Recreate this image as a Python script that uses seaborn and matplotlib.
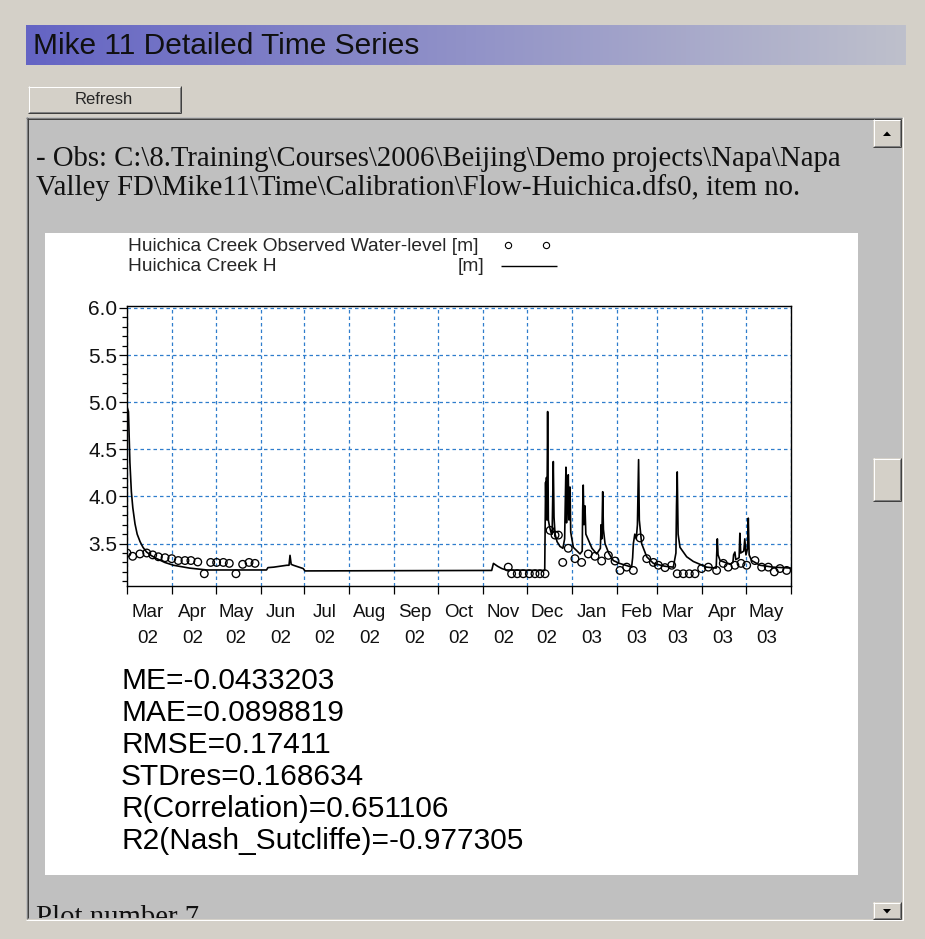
import numpy as np
import pandas as pd
import matplotlib
matplotlib.use("Agg")
import matplotlib.pyplot as plt
import matplotlib.dates as mdates
from matplotlib.patches import Rectangle, Polygon
from matplotlib.ticker import MultipleLocator
import seaborn as sns

# ---------------------------------------------------------------- data
START = "2002-03-01"
END = "2003-06-01"

# Simulated water level H (days after START, metres)
sim_day = [0, 1, 2, 3, 4, 5.5, 7, 9, 11, 13.5, 17, 20.5, 26, 32, 43, 55, 96, 97,
           101, 110, 111.5, 112.2, 113, 114.5, 121.3, 122.5, 251, 252.2, 255, 258,
           261, 287.5, 287.8, 288.1, 288.4, 288.7, 289.0, 289.5, 290.0, 290.8,
           291.8, 292.6, 293.4, 293.9, 294.6, 296, 298, 300, 301.2, 301.6, 302.1,
           302.5, 303, 303.7, 304.2, 304.9, 305.4, 307.2, 311.8, 313.3, 313.6, 314,
           314.5, 315.2, 315.8, 317.5, 320, 323.3, 325.8, 326.3, 326.8, 327.4,
           327.9, 329, 331.5, 334.7, 339, 347.3, 348, 348.5, 349.5, 350.5, 351.3,
           352.1, 352.6, 354.2, 357.7, 362.3, 370, 376, 377.8, 378.2, 378.7, 379.3,
           380.6, 385.2, 389.8, 398.9, 405.5, 405.9, 406.3, 406.8, 408.2, 415, 417,
           417.5, 418.4, 419, 421.3, 421.8, 422.4, 424.5, 425.2, 426, 427.1, 427.6,
           428.2, 429.9, 435.7, 444.8, 457]
sim_level = [4.95, 4.90, 4.36, 4.05, 3.88, 3.71, 3.60, 3.52, 3.46, 3.41, 3.37, 3.34,
             3.30, 3.27, 3.24, 3.22, 3.22, 3.245, 3.25, 3.27, 3.27, 3.375, 3.28,
             3.27, 3.235, 3.21, 3.215, 3.29, 3.26, 3.235, 3.22, 3.215, 3.70, 4.15,
             3.80, 4.20, 3.75, 4.90, 3.75, 3.68, 3.62, 3.60, 4.37, 3.78, 3.60, 3.52,
             3.47, 3.45, 3.55, 3.90, 4.31, 3.72, 3.90, 4.23, 3.75, 4.10, 3.62, 3.46,
             3.39, 3.42, 3.85, 4.12, 3.70, 3.90, 3.60, 3.54, 3.45, 3.39, 3.45, 3.70,
             3.55, 4.05, 3.65, 3.50, 3.40, 3.32, 3.29, 3.25, 3.35, 3.50, 3.60, 3.55,
             3.70, 4.39, 3.75, 3.50, 3.36, 3.29, 3.26, 3.25, 3.40, 3.90, 4.26, 3.60,
             3.46, 3.36, 3.31, 3.25, 3.24, 3.40, 3.55, 3.38, 3.32, 3.28, 3.30, 3.38,
             3.41, 3.33, 3.35, 3.61, 3.40, 3.42, 3.55, 3.38, 3.45, 3.77, 3.38, 3.32,
             3.27, 3.25, 3.24]

# Observed water level (days after START, metres)
obs_day = [0, 3.9, 8.9, 13.6, 17.7, 21.6, 26.2, 30.8, 35.3, 39.9, 44, 48.7, 53.2,
           57.6, 61.7, 66.3, 70.4, 75, 79.6, 84, 88.1,
           262.4, 264.7, 268.6, 272.7, 276.9, 280.8, 284.2, 287.7,
           291.2, 294.6, 296.9, 299.9, 303.7, 308.3, 312.9, 317.5, 322.1, 326.7,
           331.3, 335.9, 339.3, 343.9, 348.5, 353.1, 357.7, 362.3, 365.7, 370.3,
           374.9, 378.7, 382.9, 387, 390.9, 395.5, 400.1, 405.8, 410.4, 413.8,
           418.4, 422.6, 426.5, 432.2, 436.8, 441.4, 445.5, 449.4, 454]
obs_level = [3.40, 3.365, 3.39, 3.40, 3.38, 3.36, 3.35, 3.34, 3.32, 3.32, 3.32,
             3.305, 3.18, 3.30, 3.30, 3.30, 3.29, 3.18, 3.28, 3.30, 3.29,
             3.25, 3.18, 3.18, 3.18, 3.18, 3.18, 3.18, 3.18,
             3.64, 3.59, 3.59, 3.30, 3.45, 3.34, 3.30, 3.39, 3.365, 3.315, 3.375,
             3.315, 3.215, 3.25, 3.215, 3.56, 3.34, 3.30, 3.27, 3.245, 3.27, 3.18,
             3.18, 3.18, 3.18, 3.235, 3.25, 3.215, 3.29, 3.25, 3.27, 3.29, 3.27,
             3.32, 3.25, 3.25, 3.20, 3.235, 3.215]

legend_labels = ["Huichica Creek Observed Water-level [m]", "Huichica Creek H"]
legend_unit = "[m]"
stats_lines = ["ME=-0.0433203", "MAE=0.0898819", "RMSE=0.17411", "STDres=0.168634",
               "R(Correlation)=0.651106", "R2(Nash_Sutcliffe)=-0.977305"]
window_title = "Mike 11 Detailed Time Series"
button_label = "Refresh"
obs_header = [r"- Obs: C:\8.Training\Courses\2006\Beijing\Demo projects\Napa\Napa",
              r"Valley FD\Mike11\Time\Calibration\Flow-Huichica.dfs0, item no."]
footer = "Plot number 7"

t0 = pd.Timestamp(START)
sim_df = pd.DataFrame({"time": t0 + pd.to_timedelta(sim_day, unit="D"), "level": sim_level})
obs_df = pd.DataFrame({"time": t0 + pd.to_timedelta(obs_day, unit="D"), "level": obs_level})

# ---------------------------------------------------------------- styling
sns.set_style("white")
plt.rcParams["font.family"] = ["Liberation Sans", "DejaVu Sans"]
SERIF = ["Liberation Serif", "DejaVu Serif"]

W, H = 925, 939
FACE = "#d4d0c8"
fig = plt.figure(figsize=(W / 100, H / 100), dpi=100, facecolor=FACE)

# window chrome drawn in pixel coordinates
bg = fig.add_axes([0, 0, 1, 1])
bg.set_axis_off()


def hline(x0, x1, y, c, lw=1.0):
    bg.plot([x0, x1], [y, y], color=c, lw=lw * 0.72, solid_capstyle="butt")


def vline(x, y0, y1, c, lw=1.0):
    bg.plot([x, x], [y0, y1], color=c, lw=lw * 0.72, solid_capstyle="butt")


def raised(x0, y0, x1, y1):
    bg.add_patch(Rectangle((x0, y0), x1 - x0, y1 - y0, fc=FACE, ec="none"))
    hline(x0, x1, y0 + 0.5, "white")
    vline(x0 + 0.5, y0, y1, "white")
    hline(x0, x1, y1 - 0.5, "#404040")
    vline(x1 - 0.5, y0, y1, "#404040")
    hline(x0 + 1, x1 - 1, y1 - 1.5, "#808080")
    vline(x1 - 1.5, y0 + 1, y1 - 1, "#808080")


# title bar with horizontal gradient
c_left = np.array([100, 100, 196]) / 255
c_right = np.array([190, 192, 204]) / 255
ramp = np.linspace(0, 1, 512)[:, None]
grad = (c_left + (c_right - c_left) * ramp)[None, :, :]
bg.imshow(grad, extent=[26, 906, 65, 25], aspect="auto", interpolation="bilinear")
bg.text(33, 54, window_title, fontsize=21.5, color="#101010", va="baseline")

# Refresh button
raised(28, 86, 181, 113)
bg.text(104, 100, button_label, fontsize=12, ha="center", va="center")

# sunken content panel
bg.add_patch(Rectangle((26, 117), 876, 802, fc="#c0c0c0", ec="none"))
hline(26, 902, 117.5, "#808080")
vline(26.5, 117, 919, "#808080")
hline(27, 901, 118.5, "#404040")
vline(27.5, 118, 918, "#404040")
hline(26, 903, 919.5, "white")
vline(902.5, 117, 920, "white")

# scrollbar track (dithered) and buttons
checker = (np.indices((800, 29)).sum(axis=0) % 2).astype(float)
track = np.where(checker[..., None] > 0, np.array([1, 1, 1.0]),
                 np.array([212, 208, 200]) / 255)
bg.imshow(track, extent=[873, 902, 919, 119], aspect="auto", interpolation="nearest")
raised(873, 119, 901, 147)
bg.add_patch(Polygon([[883, 136], [891, 136], [887, 131.5]], closed=True, fc="black", ec="none"))
raised(873, 458, 901, 501)
raised(873, 902, 901, 919)
bg.add_patch(Polygon([[883, 909], [891, 909], [887, 913.5]], closed=True, fc="black", ec="none"))

# header text in the panel
bg.text(36, 166, obs_header[0], fontsize=20.7, va="baseline", family=SERIF, color="#111111")
bg.text(36, 195, obs_header[1], fontsize=20.7, va="baseline", family=SERIF, color="#111111")

# white plot card
bg.add_patch(Rectangle((45, 233), 813, 642, fc="white", ec="none"))

# legend
bg.text(128, 251, legend_labels[0], fontsize=13.8, va="baseline")
bg.text(128, 271, legend_labels[1], fontsize=13.8, va="baseline")
bg.text(484, 271, legend_unit, fontsize=13.8, va="baseline", ha="right")
bg.plot([508, 546], [245, 245], ls="none", marker="o", ms=4.5, mfc="none",
        mec="black", mew=0.8)
hline(501, 557, 266, "black", 1.4)

# statistics
for i, line in enumerate(stats_lines):
    bg.text(121, 689 + 32 * i, line, fontsize=21.5, va="baseline", color="black")

# footer, clipped by the panel's lower edge
foot = bg.text(36, 925, footer, fontsize=20.7, va="baseline", family=SERIF,
               color="#111111")
foot.set_clip_path(Rectangle((28, 119), 845, 799, transform=bg.transData))
foot.set_clip_on(True)

bg.set_xlim(0, W)
bg.set_ylim(H, 0)

# ---------------------------------------------------------------- chart
ax = fig.add_axes([127 / W, 1 - 586 / H, 664 / W, 280 / H])
ax.set_facecolor("white")

sns.lineplot(data=sim_df, x="time", y="level", ax=ax, color="black", lw=1.2,
             estimator=None, sort=False, zorder=3)
sns.scatterplot(data=obs_df, x="time", y="level", ax=ax, marker="o", s=30,
                facecolor="none", edgecolor="black", linewidth=0.95, zorder=4)

ax.set_xlim(pd.Timestamp(START), pd.Timestamp(END))
ax.set_ylim(3.05, 6.02)
ax.set_xlabel("")
ax.set_ylabel("")

ax.xaxis.set_major_locator(mdates.MonthLocator())
ax.xaxis.set_major_formatter(plt.NullFormatter())
ax.xaxis.set_minor_locator(mdates.MonthLocator(bymonthday=15))
ax.xaxis.set_minor_formatter(mdates.DateFormatter("%b\n%y"))
ax.yaxis.set_major_locator(MultipleLocator(0.5))
ax.yaxis.set_minor_locator(MultipleLocator(0.1))
ax.yaxis.set_major_formatter(plt.FuncFormatter(lambda v, p: f"{v:.1f}"))

ax.tick_params(axis="x", which="major", direction="out", length=6, width=0.9,
               color="black", bottom=True)
ax.tick_params(axis="x", which="minor", length=0, pad=13, labelsize=13.5,
               labelcolor="#111111", bottom=True)
ax.tick_params(axis="y", which="major", direction="out", length=5.5, width=0.9,
               color="black", pad=1.5, labelsize=15, labelcolor="#111111", left=True)
ax.tick_params(axis="y", which="minor", direction="out", length=3.8, width=0.9,
               color="black", left=True)
for lab in ax.get_xticklabels(minor=True):
    lab.set_linespacing(1.65)

ax.grid(True, which="major", axis="both", color="#2f7dcc", lw=0.9,
        ls=(0, (2.8, 2.4)))
ax.set_axisbelow(True)
for s in ax.spines.values():
    s.set_visible(True)
    s.set_color("black")
    s.set_linewidth(1.0)

fig.savefig("out.png", dpi=100, facecolor=FACE)
